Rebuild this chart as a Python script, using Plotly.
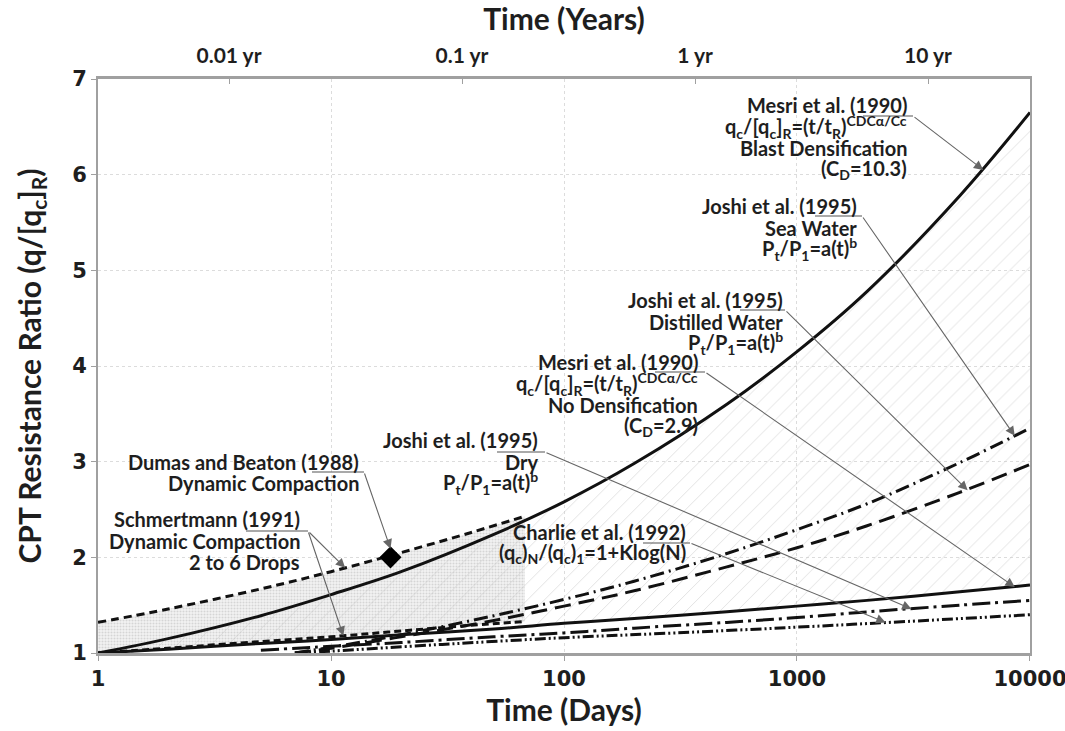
import numpy as np
import plotly.graph_objects as go

# ---- curve tables (time in days, CPT resistance ratio) ----
t_main = [1, 2, 5, 10, 20, 50, 100, 200, 500, 1000, 2000, 5000, 10000]
mesri_blast = [1.00, 1.15, 1.39, 1.61, 1.85, 2.24, 2.58, 2.98, 3.60, 4.15, 4.78, 5.78, 6.65]
mesri_nodens = [1.00, 1.04, 1.10, 1.14, 1.19, 1.25, 1.31, 1.36, 1.43, 1.49, 1.55, 1.64, 1.71]

t_schm = [1, 2, 5, 10, 20, 40, 68]
schm_upper = [1.32, 1.46, 1.67, 1.85, 2.05, 2.26, 2.43]
schm_lower = [1.00, 1.05, 1.12, 1.17, 1.23, 1.29, 1.33]

t_joshi = [7, 10, 20, 50, 100, 200, 500, 1000, 2000, 5000, 10000]
joshi_sea = [1.00, 1.06, 1.19, 1.39, 1.56, 1.75, 2.04, 2.29, 2.56, 2.99, 3.35]
joshi_distilled = [1.00, 1.05, 1.17, 1.34, 1.49, 1.65, 1.90, 2.10, 2.33, 2.68, 2.97]

t_dry = [5, 10, 20, 50, 100, 200, 500, 1000, 2000, 5000, 10000]
joshi_dry = [1.03, 1.07, 1.11, 1.17, 1.21, 1.26, 1.32, 1.37, 1.43, 1.50, 1.55]

t_charlie = [7, 10, 30, 100, 300, 1000, 3000, 10000]
charlie = [1.00, 1.02, 1.09, 1.16, 1.21, 1.27, 1.33, 1.40]

dumas_t = [18]
dumas_v = [2.0]

# ---- axis ticks ----
day_ticks = [1, 10, 100, 1000, 10000]
day_labels = ["1", "10", "100", "1000", "10000"]
year_ticks = [0.01, 0.1, 1, 10]
year_labels = ["0.01 yr", "0.1 yr", "1 yr", "10 yr"]
ratio_ticks = [1, 2, 3, 4, 5, 6, 7]

# ---- figure geometry ----
W, H = 1065, 731
L, R, T, B = 98, 35, 79, 78
PW, PH = W - L - R, H - T - B
X_RANGE = [-0.00005, 4.00005]

TEXT_FONT = "Lato, Calibri, sans-serif"
TICK_FONT = "DejaVu Sans, Verdana, sans-serif"
INK = "#1e1e1e"


def px_to_paper(x, y):
    return (x - L) / PW, (H - B - y) / PH


def data_to_px(t, v):
    return L + np.log10(t) / 4 * PW, T + (7 - v) / 6 * PH


fig = go.Figure()

# stippled band between the two Schmertmann bounds
fig.add_trace(go.Scatter(x=t_schm, y=schm_lower, mode="lines", line=dict(width=0, shape="spline"),
                         hoverinfo="skip", showlegend=False))
fig.add_trace(go.Scatter(x=t_schm, y=schm_upper, mode="lines", line=dict(width=0, shape="spline"),
                         fill="tonexty", fillcolor="rgba(0,0,0,0)",
                         fillpattern=dict(shape=".", fgcolor="#b8b8b8", bgcolor="#f3f3f3", size=3, solidity=0.4),
                         hoverinfo="skip", showlegend=False))

# hatched band between the two Mesri curves
fig.add_trace(go.Scatter(x=t_main, y=mesri_nodens, mode="lines", line=dict(width=0, shape="spline"),
                         hoverinfo="skip", showlegend=False))
fig.add_trace(go.Scatter(x=t_main, y=mesri_blast, mode="lines", line=dict(width=0, shape="spline"),
                         fill="tonexty", fillcolor="rgba(0,0,0,0)",
                         fillpattern=dict(shape="/", fgcolor="#c4c4c4", bgcolor="rgba(0,0,0,0)", size=12, solidity=0.08),
                         hoverinfo="skip", showlegend=False))


def curve(x, y, dash, width=3):
    fig.add_trace(go.Scatter(x=x, y=y, mode="lines", showlegend=False,
                             line=dict(color="#111", width=width, dash=dash, shape="spline")))


curve(t_charlie, charlie, "11px,3px,2px,3px,2px,3px")
curve(t_dry, joshi_dry, "18px,5px,3px,5px")
curve(t_joshi, joshi_distilled, "16px,8px")
curve(t_joshi, joshi_sea, "14px,5px,2px,5px")
curve(t_schm, schm_lower, "7px,4px")
curve(t_schm, schm_upper, "8px,5px")
curve(t_main, mesri_nodens, "solid")
curve(t_main, mesri_blast, "solid")

fig.add_trace(go.Scatter(x=dumas_t, y=dumas_v, mode="markers", showlegend=False,
                         marker=dict(symbol="diamond", size=17, color="#000")))

# invisible trace that carries the year axis
fig.add_trace(go.Scatter(x=[1, 10000], y=[1, 1], xaxis="x2", mode="lines",
                         line=dict(width=0), hoverinfo="skip", showlegend=False))

# ---- labels with leader lines ----
labels = [
    dict(lines=["Mesri et al. (1990)",
                "q<sub>c</sub>/[q<sub>c</sub>]<sub>R</sub>=(t/t<sub>R</sub>)<sup>CDCα/Cc</sup>",
                "Blast Densification", "(C<sub>D</sub>=10.3)"],
         right=909, top=105, lead=(863, 913, 116), tips=[(6300, 6.05)]),
    dict(lines=["Joshi et al. (1995)", "Sea Water", "P<sub>t</sub>/P<sub>1</sub>=a(t)<sup>b</sup>"],
         right=859, top=206, lead=(815, 862, 216), tips=[(8600, 3.27)]),
    dict(lines=["Joshi et al. (1995)", "Distilled Water", "P<sub>t</sub>/P<sub>1</sub>=a(t)<sup>b</sup>"],
         right=785, top=300, lead=(740, 785, 310), tips=[(5400, 2.70)]),
    dict(lines=["Mesri et al. (1990)",
                "q<sub>c</sub>/[q<sub>c</sub>]<sub>R</sub>=(t/t<sub>R</sub>)<sup>CDCα/Cc</sup>",
                "No Densification", "(C<sub>D</sub>=2.9)"],
         right=700, top=362, lead=(655, 705, 372), tips=[(8600, 1.69)]),
    dict(lines=["Joshi et al. (1995)", "Dry", "P<sub>t</sub>/P<sub>1</sub>=a(t)<sup>b</sup>"],
         right=540, top=440, lead=(497, 545, 452), tips=[(3100, 1.46)]),
    dict(lines=["Dumas and Beaton (1988)", "Dynamic Compaction"],
         right=361, top=462, lead=(312, 364, 472), tips=[(18, 2.09)]),
    dict(lines=["Schmertmann (1991)", "Dynamic Compaction", "2 to 6 Drops"],
         right=302, top=519, lead=(246, 308, 531), tips=[(11.5, 1.89), (11.3, 1.18)]),
    dict(lines=["Charlie et al. (1992)", "(q<sub>c</sub>)<sub>N</sub>/(q<sub>c</sub>)<sub>1</sub>=1+Klog(N)"],
         right=688, top=532, lead=(643, 690, 543), tips=[(2400, 1.32)]),
]

LINE_STEP = 21.5
for lab in labels:
    for i, txt in enumerate(lab["lines"]):
        xp, yp = px_to_paper(lab["right"], lab["top"] + i * LINE_STEP)
        fig.add_annotation(x=xp, y=yp, xref="paper", yref="paper", text=txt, showarrow=False,
                           xanchor="right", yanchor="middle",
                           font=dict(family=TEXT_FONT, size=20, color=INK, weight="bold"))
    x0, x1, yl = lab["lead"]
    a0, b0 = px_to_paper(x0, yl)
    a1, b1 = px_to_paper(x1, yl)
    fig.add_shape(type="line", xref="paper", yref="paper", x0=a0, y0=b0, x1=a1, y1=b1,
                  line=dict(color="#555", width=1.2))
    for (tt, tv) in lab["tips"]:
        tx, ty = data_to_px(tt, tv)
        px_, py_ = px_to_paper(tx, ty)
        fig.add_annotation(x=px_, y=py_, xref="paper", yref="paper", text="", showarrow=True,
                           ax=x1 - tx, ay=yl - ty, arrowhead=2, arrowsize=1.7, arrowwidth=1.1,
                           arrowcolor="#666", standoff=0, startstandoff=0)

axis_line = "#a0a0a0"
fig.update_layout(
    width=W, height=H,
    margin=dict(l=L, r=R, t=T, b=B, autoexpand=False),
    paper_bgcolor="white", plot_bgcolor="white",
    xaxis=dict(type="log", range=X_RANGE, tickvals=day_ticks, ticktext=day_labels,
               tickfont=dict(family=TICK_FONT, size=21, color=INK, weight="bold"),
               ticklabeloverflow="allow", automargin=False,
               showgrid=True, gridcolor="#dcdcdc", griddash="dot", gridwidth=1,
               showline=True, linecolor=axis_line, linewidth=2.5, mirror=False,
               ticks="outside", ticklen=5, tickcolor=axis_line, zeroline=False,
               title=dict(text="Time (Days)", standoff=6,
                          font=dict(family=TEXT_FONT, size=30, color=INK, weight="bold"))),
    xaxis2=dict(type="log", range=X_RANGE, overlaying="x", side="top",
                tickvals=[y * 365 for y in year_ticks], ticktext=year_labels,
                tickfont=dict(family=TEXT_FONT, size=21, color=INK, weight="bold"),
                showgrid=False, showline=True, linecolor=axis_line, linewidth=2.5,
                ticks="inside", ticklen=5, tickcolor=axis_line, zeroline=False,
                ticklabelstandoff=5, automargin=False,
                title=dict(text="Time (Years)", standoff=6,
                           font=dict(family=TEXT_FONT, size=30, color=INK, weight="bold"))),
    yaxis=dict(range=[1, 7], tickvals=ratio_ticks,
               tickfont=dict(family=TICK_FONT, size=21, color=INK, weight="bold"),
               showgrid=True, gridcolor="#dcdcdc", griddash="dot", gridwidth=1,
               showline=True, linecolor=axis_line, linewidth=2, mirror=True,
               ticks="outside", ticklen=5, tickcolor=axis_line, zeroline=False,
               automargin=False,
               title=dict(text="CPT Resistance Ratio (q/[q<sub>c</sub>]<sub>R</sub>)", standoff=22,
                          font=dict(family=TEXT_FONT, size=30, color=INK, weight="bold"))),
)

fig.write_html("out.html")
